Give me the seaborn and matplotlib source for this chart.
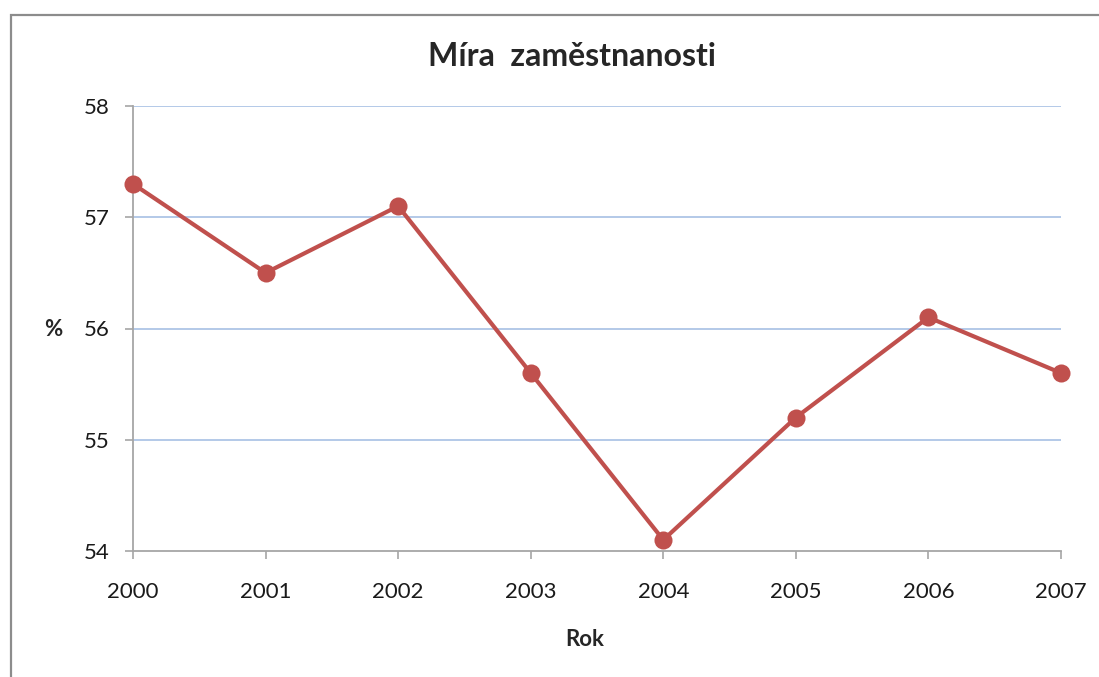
import matplotlib
matplotlib.use("Agg")
import matplotlib.pyplot as plt
from matplotlib.patches import Rectangle
import seaborn as sns

# values
years = [2000, 2001, 2002, 2003, 2004, 2005, 2006, 2007]
employment_rate = [57.3, 56.5, 57.1, 55.6, 54.1, 55.2, 56.1, 55.6]
y_ticks = [54, 55, 56, 57, 58]

sns.set_style("white")
plt.rcParams['font.family'] = ['Lato', 'DejaVu Sans']

W, H = 1099, 677
fig = plt.figure(figsize=(W / 100, H / 100), dpi=100)
ax = fig.add_axes([133 / W, 1 - 551 / H, (1061 - 133) / W, (551 - 106) / H])

sns.lineplot(x=years, y=employment_rate, ax=ax, color='#C0504D', linewidth=3.0,
             marker='o', markersize=13, markeredgewidth=0, clip_on=False, zorder=5)

ax.set_xlim(2000, 2007)
ax.set_ylim(54, 58)
ax.set_xticks(years)
ax.set_yticks(y_ticks)
ax.set_xticklabels([str(y) for y in years], fontsize=16, color='#1a1a1a')
ax.set_yticklabels([str(v) for v in y_ticks], fontsize=16, color='#1a1a1a')

# horizontal gridlines only
for v in y_ticks[1:]:
    ax.axhline(v, color='#B3C9E8', linewidth=1.4, zorder=1)

for side in ['top', 'right']:
    ax.spines[side].set_visible(False)
for side in ['left', 'bottom']:
    ax.spines[side].set_color('#A6A6A6')
    ax.spines[side].set_linewidth(1.3)
ax.tick_params(axis='both', bottom=True, left=True, direction='out', length=6,
               width=1.2, color='#A6A6A6')
ax.tick_params(axis='x', pad=16)
ax.tick_params(axis='y', pad=11)
ax.set_xlabel('')
ax.set_ylabel('')

fig.text(572 / W, 1 - 57 / H, 'Míra  zaměstnanosti', fontsize=23, fontweight='bold',
         ha='center', va='center')
fig.text(585 / W, 1 - 640 / H, 'Rok', fontsize=16, fontweight='bold',
         ha='center', va='center')
fig.text(53 / W, 1 - 330 / H, '%', fontsize=16, fontweight='bold',
         ha='center', va='center')

# outer chart frame (clipped at right and bottom)
fig.add_artist(Rectangle((10.5 / W, -0.1), 1.2, 1.1 - 15.5 / H, transform=fig.transFigure,
                         fill=False, edgecolor='#8C8C8C', linewidth=1.6))

fig.savefig('out.png', dpi=100)
